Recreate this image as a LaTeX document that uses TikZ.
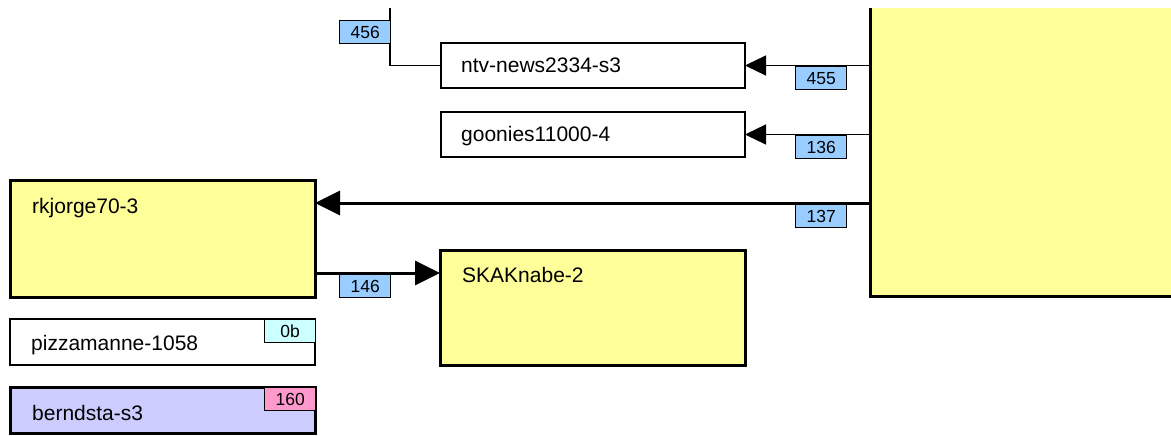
\documentclass[tikz,border=0pt]{standalone}
\usepackage{fontspec}
\setmainfont{Liberation Sans}
\usetikzlibrary{arrows.meta,calc}
\definecolor{boxyellow}{HTML}{FFFF99}
\definecolor{lblblue}{HTML}{99CCFF}
\definecolor{lblcyan}{HTML}{CCFFFF}
\definecolor{lblpink}{HTML}{FF99CC}
\definecolor{boxlav}{HTML}{CCCCFF}
\tikzset{
  box/.style={draw=black, rectangle, inner sep=0pt, outer sep=0pt, anchor=north west, minimum width=305pt},
  thinbox/.style={box, line width=1.3pt, fill=white},
  thickbox/.style={box, line width=3pt},
  boxtext/.style={anchor=base west, inner sep=0pt, font=\fontsize{21}{25}\selectfont},
  lbl/.style={draw=black, line width=1.3pt, fill=lblblue, rectangle, inner sep=0pt, anchor=north west,
    minimum width=51pt, minimum height=23pt, font=\fontsize{17.5}{20}\selectfont},
  thinarrow/.style={line width=1.3pt, -{Triangle[length=21pt,width=20pt]}},
  thickarrow/.style={line width=3pt, -{Triangle[length=25pt,width=24pt]}},
  thinline/.style={line width=1.3pt},
}
\begin{document}
\begin{tikzpicture}[x=1pt,y=-1pt]
\useasboundingbox (0,0) rectangle (1171,436);
\clip (0,9) rectangle (1171,436);
% boxes
\node[thickbox, fill=boxyellow, minimum width=330pt, minimum height=336pt] (big) at (870,-40) {};
\node[thinbox, minimum width=304pt, minimum height=45pt] (ntv) at (441,43) {};
\node[thinbox, minimum width=304pt, minimum height=45pt] (goon) at (441,112) {};
\node[thickbox, fill=boxyellow, minimum height=117pt] (rk) at (10,180) {};
\node[thickbox, fill=boxyellow, minimum height=115pt] (ska) at (440,250) {};
\node[thinbox, minimum height=46pt] (pizza) at (10,319) {};
\node[thickbox, fill=boxlav, minimum height=46pt] (bernd) at (10,387) {};
% texts
\node[boxtext] (tntv) at ($(ntv.north west)+(20,30)$) {ntv-news2334-s3};
\node[boxtext] (tgoon) at ($(goon.north west)+(20,30)$) {goonies11000-4};
\node[boxtext] (trk) at ($(rk.north west)+(22,33)$) {rkjorge70-3};
\node[boxtext] (tska) at ($(ska.north west)+(22,32)$) {SKAKnabe-2};
\node[boxtext] (tpizza) at ($(pizza.north west)+(21,31)$) {pizzamanne-1058};
\node[boxtext] (tbernd) at ($(bernd.north west)+(22,33)$) {berndsta-s3};
% connectors
\coordinate (top456) at (390,0);
\coordinate (rkin) at ($(rk.north east)+(0,23)$);
\coordinate (rkout) at ($(rk.south east)+(0,-24)$);
\draw[thinline] (ntv.west) -| (top456);
\draw[thinarrow] (ntv.east -| big.west) -- (ntv.east);
\draw[thinarrow] (goon.east -| big.west) -- (goon.east);
\draw[thickarrow] (rkin -| big.west) -- (rkin);
\draw[thickarrow] (rkout) -- (rkout -| ska.west);
% labels
\node[lbl] (l456) at (339,20) {456};
\node[lbl] (l455) at (795,66) {455};
\node[lbl] (l136) at (795,135) {136};
\node[lbl] (l137) at (795,204) {137};
\node[lbl] (l146) at (339,274) {146};
\node[lbl, fill=lblcyan] (l0b) at (264,319) {0b};
\node[lbl, fill=lblpink] (l160) at (264,387) {160};
\end{tikzpicture}
\end{document}
